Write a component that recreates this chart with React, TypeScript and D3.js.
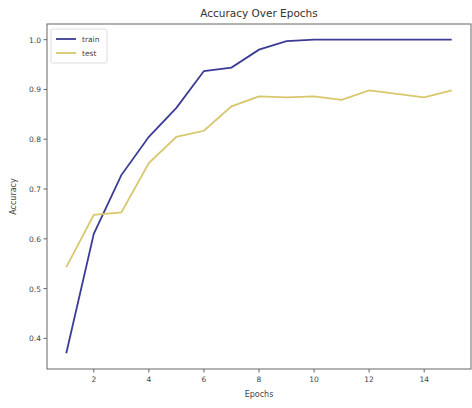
import React from "react";
import * as d3 from "d3";

const epochs = [1, 2, 3, 4, 5, 6, 7, 8, 9, 10, 11, 12, 13, 14, 15];
const trainAcc = [0.37, 0.61, 0.728, 0.805, 0.863, 0.937, 0.944, 0.98, 0.997, 1.0, 1.0, 1.0, 1.0, 1.0, 1.0];
const testAcc = [0.543, 0.648, 0.653, 0.752, 0.805, 0.817, 0.866, 0.886, 0.884, 0.886, 0.879, 0.898, 0.891, 0.884, 0.898];
const xTicks = [2, 4, 6, 8, 10, 12, 14];
const yTicks = [0.4, 0.5, 0.6, 0.7, 0.8, 0.9, 1.0];
const seriesNames = ["train", "test"];
const seriesColors = ["#3c3c96", "#d8c76c"];

export default function App() {
  const W = 472, H = 408;
  const left = 47, right = 471, top = 24, bottom = 369;
  const x = d3.scaleLinear().domain([0.3, 15.7]).range([left, right]);
  const y = d3.scaleLinear().domain([0.3385, 1.0315]).range([bottom, top]);
  const line = d3.line<number>().x((_, i) => x(epochs[i])).y((d) => y(d));
  const series = [trainAcc, testAcc];
  const font = "'DejaVu Sans', sans-serif";
  return (
    <svg width={W} height={H} style={{ position: "absolute", left: 0, top: 0, background: "#fff" }} fontFamily={font}>
      <rect x={0} y={0} width={W} height={H} fill="#fff" />
      <text x={(left + right) / 2} y={17} textAnchor="middle" fontSize={10.5} fill="#333">Accuracy Over Epochs</text>
      {series.map((s, i) => (
        <path key={i} d={line(s) || ""} fill="none" stroke={seriesColors[i]} strokeWidth={1.8} />
      ))}
      <rect x={left} y={top} width={right - left} height={bottom - top} fill="none" stroke="#666" strokeWidth={1} />
      {yTicks.map((t) => (
        <g key={t}>
          <line x1={left - 3.5} x2={left} y1={y(t)} y2={y(t)} stroke="#666" />
          <text x={left - 6} y={y(t) + 3} textAnchor="end" fontSize={7.5} fill="#444">{t.toFixed(1)}</text>
        </g>
      ))}
      {xTicks.map((t) => (
        <g key={t}>
          <line x1={x(t)} x2={x(t)} y1={bottom} y2={bottom + 3.5} stroke="#666" />
          <text x={x(t)} y={bottom + 13} textAnchor="middle" fontSize={7.5} fill="#444">{t}</text>
        </g>
      ))}
      <text x={(left + right) / 2} y={397} textAnchor="middle" fontSize={8} fill="#444">Epochs</text>
      <text transform={`translate(16,${(top + bottom) / 2}) rotate(-90)`} textAnchor="middle" fontSize={8} fill="#444">Accuracy</text>
      <rect x={51} y={29} width={56} height={34} rx={2} fill="#fff" fillOpacity={0.8} stroke="#ddd" />
      {seriesNames.map((n, i) => (
        <g key={n}>
          <line x1={56} x2={76} y1={39 + i * 14} y2={39 + i * 14} stroke={seriesColors[i]} strokeWidth={1.8} />
          <text x={82} y={42 + i * 14} fontSize={7.5} fill="#444">{n}</text>
        </g>
      ))}
    </svg>
  );
}
